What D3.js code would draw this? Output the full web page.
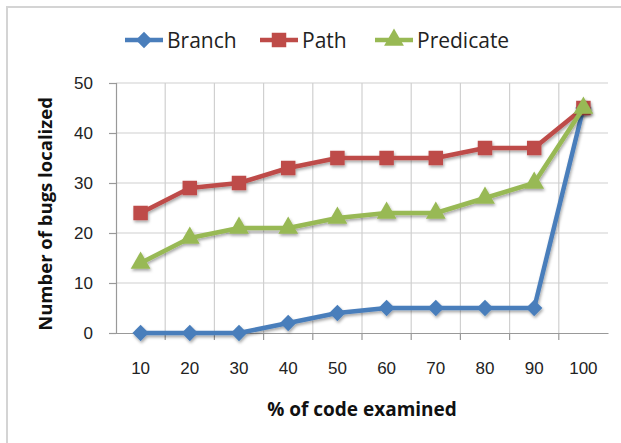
<!DOCTYPE html>
<html>
<head>
<meta charset="utf-8">
<script src="https://cdn.jsdelivr.net/npm/d3@7"></script>
<style>
  body { margin: 0; background: #fff; }
  svg { display: block; font-family: "Open Sans", "Noto Sans", sans-serif; }
</style>
</head>
<body>
<div id="chart"></div>
<script>
let categories = ['10', '20', '30', '40', '50', '60', '70', '80', '90', '100'];
let branch = [0, 0, 0, 2, 4, 5, 5, 5, 5, 45];
let path = [24, 29, 30, 33, 35, 35, 35, 37, 37, 45];
let predicate = [14, 19, 21, 21, 23, 24, 24, 27, 30, 45];
let yTicks = [0, 10, 20, 30, 40, 50];

let series = [
  {name: 'Branch', values: branch, color: '#4a7ebb', shape: d3.symbolDiamond2, size: 170},
  {name: 'Path', values: path, color: '#be4b48', shape: d3.symbolSquare, size: 210},
  {name: 'Predicate', values: predicate, color: '#98b954', shape: d3.symbolTriangle, size: 170}
];

let width = 621, height = 443;
let margin = {top: 83, right: 13, bottom: 110, left: 116};
let innerW = width - margin.left - margin.right;
let innerH = height - margin.top - margin.bottom;

let svg = d3.select('#chart')
  .append('svg')
  .attr('width', width)
  .attr('height', height);

// outer frame (only top and left visible in the crop)
svg.append('path')
  .attr('d', 'M7,443 L7,7 L621,7')
  .attr('fill', 'none')
  .attr('stroke', '#d4d4d4')
  .attr('stroke-width', 2);

let defs = svg.append('defs');
let f = defs.append('filter').attr('id', 'shadow')
  .attr('x', '-20%').attr('y', '-20%').attr('width', '140%').attr('height', '140%');
f.append('feDropShadow')
  .attr('dx', 1).attr('dy', 2).attr('stdDeviation', 1.5)
  .attr('flood-color', '#000').attr('flood-opacity', 0.35);

let g = svg.append('g')
  .attr('transform', 'translate(' + margin.left + ',' + margin.top + ')');

let x = d3.scaleBand().domain(categories).range([0, innerW]);
let y = d3.scaleLinear().domain([0, 50]).range([innerH, 0]);

// horizontal gridlines
g.selectAll('.hgrid')
  .data(yTicks.slice(1))
  .enter().append('line')
  .attr('x1', 0).attr('x2', innerW)
  .attr('y1', d => y(d)).attr('y2', d => y(d))
  .attr('stroke', '#d0d0d0').attr('stroke-width', 1.2);

// vertical gridlines at band boundaries
g.selectAll('.vgrid')
  .data(categories.slice(1))
  .enter().append('line')
  .attr('x1', d => x(d)).attr('x2', d => x(d))
  .attr('y1', 0).attr('y2', innerH)
  .attr('stroke', '#d0d0d0').attr('stroke-width', 1.2);

let yAxis = d3.axisLeft(y).tickValues(yTicks).tickSize(7).tickPadding(16);
let yG = g.append('g').call(yAxis);
yG.select('.domain').attr('stroke', '#999').attr('stroke-width', 1.2);
yG.selectAll('.tick line').attr('stroke', '#999').attr('stroke-width', 1.2);
yG.selectAll('.tick text').attr('font-size', 17).attr('fill', '#222');

let xAxis = d3.axisBottom(x).tickSize(0).tickPadding(29);
let xG = g.append('g').attr('transform', 'translate(0,' + innerH + ')').call(xAxis);
xG.select('.domain').attr('stroke', '#999').attr('stroke-width', 1.2);
xG.selectAll('.tick text').attr('font-size', 17).attr('fill', '#222');
xG.selectAll('.xtick')
  .data(categories.slice(1))
  .enter().append('line')
  .attr('x1', d => x(d)).attr('x2', d => x(d))
  .attr('y1', 0).attr('y2', 7)
  .attr('stroke', '#999').attr('stroke-width', 1.2);

let line = d3.line()
  .x((d, i) => x(categories[i]) + x.bandwidth() / 2)
  .y(d => y(d));

series.forEach(s => {
  let sg = g.append('g').attr('filter', 'url(#shadow)');
  sg.append('path')
    .attr('d', line(s.values))
    .attr('fill', 'none')
    .attr('stroke', s.color)
    .attr('stroke-width', 4.5)
    .attr('stroke-linejoin', 'round');
  sg.selectAll('.pt')
    .data(s.values)
    .enter().append('path')
    .attr('transform', (d, i) => 'translate(' + (x(categories[i]) + x.bandwidth() / 2) + ',' + y(d) + ')')
    .attr('d', d3.symbol().type(s.shape).size(s.size))
    .attr('fill', s.color);
});

// legend
let legendX = [125, 260, 375];
series.forEach((s, i) => {
  let lg = svg.append('g').attr('transform', 'translate(' + legendX[i] + ',40)');
  lg.append('line')
    .attr('x1', 0).attr('x2', 38)
    .attr('stroke', s.color).attr('stroke-width', 4.5);
  lg.append('path')
    .attr('transform', 'translate(19,0)')
    .attr('d', d3.symbol().type(s.shape).size(s.size))
    .attr('fill', s.color);
  lg.append('text')
    .attr('x', 42).attr('y', 7.5)
    .attr('font-size', 21).attr('fill', '#222')
    .text(s.name);
});

svg.append('text')
  .attr('text-anchor', 'middle')
  .attr('transform', 'translate(52,214) rotate(-90)')
  .attr('font-size', 18.5).attr('font-weight', 'bold').attr('fill', '#111')
  .text('Number of bugs localized');

svg.append('text')
  .attr('text-anchor', 'middle')
  .attr('x', 362).attr('y', 416)
  .attr('font-size', 19).attr('font-weight', 'bold').attr('fill', '#111')
  .text('% of code examined');
</script>
</body>
</html>
